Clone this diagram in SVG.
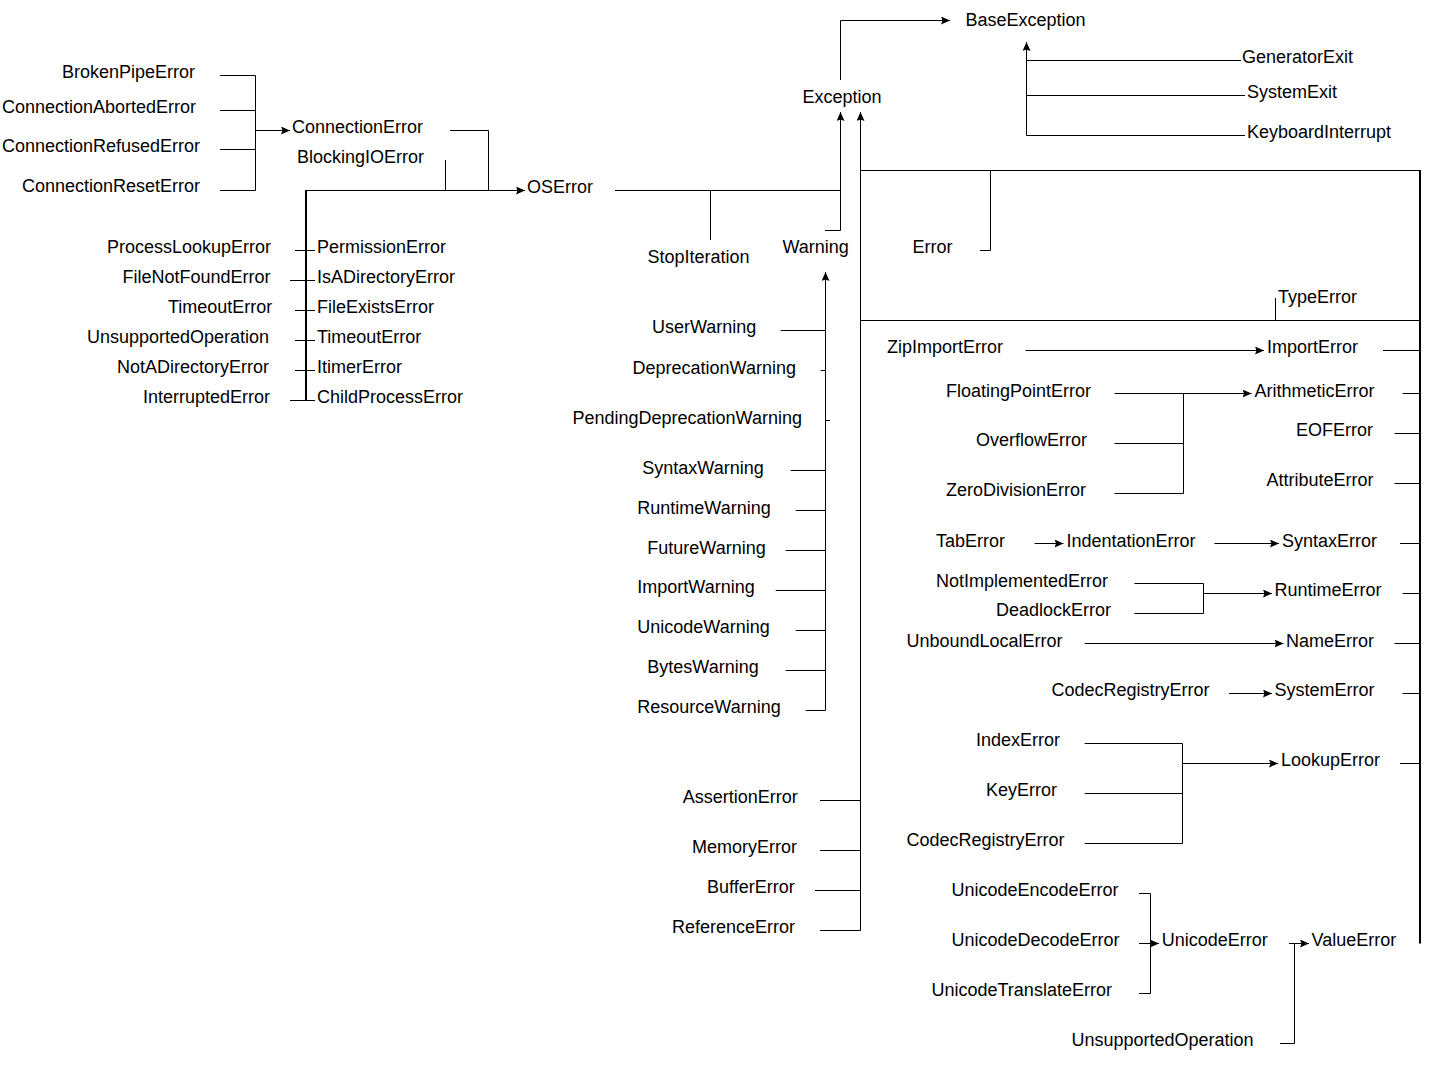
<svg xmlns="http://www.w3.org/2000/svg" width="1430" height="1067" viewBox="0 0 1430 1067">
<style>
text{font-family:"Liberation Sans",Arial,Helvetica,sans-serif;font-size:18px;fill:#000}
.c{fill:none;stroke:#000;stroke-width:1}
.t{fill:none;stroke:#000;stroke-width:2}
</style>
<defs>
<marker id="ah" markerUnits="userSpaceOnUse" markerWidth="10" markerHeight="9" refX="9" refY="4" orient="auto">
<path d="M0,0 L9,4 L0,8 L1.5,4 z" fill="#000"/>
</marker>
</defs>
<rect width="1430" height="1067" fill="#fff"/>
<g id="connectors">
<path class="c" d="M220 75.5 H255.5 V190.5 H220"/>
<path class="c" d="M220 110.5 H255.5"/>
<path class="c" d="M220 149.5 H255.5"/>
<path class="c" d="M255.5 130.5 H290" marker-end="url(#ah)"/>
<path class="c" d="M450 130.5 H488.5 V190.5"/>
<path class="c" d="M445.5 160 V190.5"/>
<path class="t" d="M306 190 V400.5"/>
<path class="c" d="M306 190.5 H525" marker-end="url(#ah)"/>
<path class="c" d="M295 250.5 H315"/>
<path class="c" d="M290 280.5 H315"/>
<path class="c" d="M295 310.5 H315"/>
<path class="c" d="M295 340.5 H315"/>
<path class="c" d="M295 370.5 H315"/>
<path class="c" d="M290 400.5 H315"/>
<path class="c" d="M615 190.5 H840.5"/>
<path class="c" d="M710.5 240 V190.5"/>
<path class="c" d="M825 230.5 H840.5 V112" marker-end="url(#ah)"/>
<path class="c" d="M840.5 80 V20.5 H950" marker-end="url(#ah)"/>
<path class="c" d="M820 930.5 H860.5 V112" marker-end="url(#ah)"/>
<path class="c" d="M860.5 170.5 H1420"/>
<path class="c" d="M860.5 320.5 H1420"/>
<path class="t" d="M1420 170 V943.5"/>
<path class="c" d="M980 250.5 H990.5 V170.5"/>
<path class="c" d="M1275.5 298 V320.5"/>
<path class="c" d="M1241 60.5 H1026.5"/>
<path class="c" d="M1245 95.5 H1026.5"/>
<path class="c" d="M1245 135.5 H1026.5 V42" marker-end="url(#ah)"/>
<path class="c" d="M805.7 710.5 H825.5 V272" marker-end="url(#ah)"/>
<path class="c" d="M780.7 330.5 H825.5"/>
<path class="c" d="M820.7 370.5 H825.5"/>
<path class="c" d="M825.5 420.5 H830"/>
<path class="c" d="M790.7 470.5 H825.5"/>
<path class="c" d="M795.7 510.5 H825.5"/>
<path class="c" d="M785.7 550.5 H825.5"/>
<path class="c" d="M775.7 590.5 H825.5"/>
<path class="c" d="M795.7 630.5 H825.5"/>
<path class="c" d="M785.7 670.5 H825.5"/>
<path class="c" d="M820 800.5 H860.5"/>
<path class="c" d="M820 850.5 H860.5"/>
<path class="c" d="M815 890.5 H860.5"/>
<path class="c" d="M1025.5 350.5 H1264" marker-end="url(#ah)"/>
<path class="c" d="M1383 350.5 H1420"/>
<path class="c" d="M1114.5 393.5 H1251.5" marker-end="url(#ah)"/>
<path class="c" d="M1183.5 393.5 V493.5 H1114.5"/>
<path class="c" d="M1114.5 443.5 H1183.5"/>
<path class="c" d="M1402.5 393.5 H1420"/>
<path class="c" d="M1394.5 433.5 H1420"/>
<path class="c" d="M1394.5 483.5 H1420"/>
<path class="c" d="M1034.5 543.5 H1063.5" marker-end="url(#ah)"/>
<path class="c" d="M1214.5 543.5 H1279" marker-end="url(#ah)"/>
<path class="c" d="M1400 543.5 H1420"/>
<path class="c" d="M1134.5 583.5 H1203.5 V613.5 H1134.5"/>
<path class="c" d="M1203.5 593.5 H1272" marker-end="url(#ah)"/>
<path class="c" d="M1402.5 593.5 H1420"/>
<path class="c" d="M1084.7 643.5 H1283.5" marker-end="url(#ah)"/>
<path class="c" d="M1394.5 643.5 H1420"/>
<path class="c" d="M1229 693.5 H1272" marker-end="url(#ah)"/>
<path class="c" d="M1402.5 693.5 H1420"/>
<path class="c" d="M1084.7 743.5 H1182.5 V843.5 H1084.7"/>
<path class="c" d="M1084.7 793.5 H1182.5"/>
<path class="c" d="M1182.5 763.5 H1278" marker-end="url(#ah)"/>
<path class="c" d="M1400 763.5 H1420"/>
<path class="c" d="M1139 893.5 H1150.5 V993.5 H1139"/>
<path class="c" d="M1139 943.5 H1159" marker-end="url(#ah)"/>
<path class="c" d="M1289 943.5 H1309" marker-end="url(#ah)"/>
<path class="c" d="M1280 1043.5 H1294.5 V943.5"/>
</g>
<g id="n-BrokenPipeError"><text x="62" y="78">BrokenPipeError</text></g>
<g id="n-ConnectionAbortedError"><text x="2" y="113">ConnectionAbortedError</text></g>
<g id="n-ConnectionRefusedError"><text x="2" y="152">ConnectionRefusedError</text></g>
<g id="n-ConnectionResetError"><text x="22" y="192">ConnectionResetError</text></g>
<g id="n-ConnectionError"><text x="292" y="133">ConnectionError</text></g>
<g id="n-BlockingIOError"><text x="297" y="163">BlockingIOError</text></g>
<g id="n-OSError"><text x="527" y="193">OSError</text></g>
<g id="n-ProcessLookupError"><text x="107" y="253">ProcessLookupError</text></g>
<g id="n-FileNotFoundError"><text x="122.5" y="283">FileNotFoundError</text></g>
<g id="n-TimeoutError-l"><text x="168" y="313">TimeoutError</text></g>
<g id="n-UnsupportedOperation-l"><text x="87" y="343">UnsupportedOperation</text></g>
<g id="n-NotADirectoryError"><text x="117" y="373">NotADirectoryError</text></g>
<g id="n-InterruptedError"><text x="143" y="403">InterruptedError</text></g>
<g id="n-PermissionError"><text x="317" y="253">PermissionError</text></g>
<g id="n-IsADirectoryError"><text x="317" y="283">IsADirectoryError</text></g>
<g id="n-FileExistsError"><text x="317" y="313">FileExistsError</text></g>
<g id="n-TimeoutError-r"><text x="317" y="343">TimeoutError</text></g>
<g id="n-ItimerError"><text x="317" y="373">ItimerError</text></g>
<g id="n-ChildProcessError"><text x="317" y="403">ChildProcessError</text></g>
<g id="n-BaseException"><text x="965.5" y="26">BaseException</text></g>
<g id="n-Exception"><text x="802.5" y="103">Exception</text></g>
<g id="n-StopIteration"><text x="647.5" y="263">StopIteration</text></g>
<g id="n-Warning"><text x="782.5" y="253">Warning</text></g>
<g id="n-Error"><text x="912.5" y="253">Error</text></g>
<g id="n-UserWarning"><text x="652" y="333">UserWarning</text></g>
<g id="n-DeprecationWarning"><text x="632.5" y="374">DeprecationWarning</text></g>
<g id="n-PendingDeprecationWarning"><text x="572.5" y="424">PendingDeprecationWarning</text></g>
<g id="n-SyntaxWarning"><text x="642.3" y="474">SyntaxWarning</text></g>
<g id="n-RuntimeWarning"><text x="637.3" y="514">RuntimeWarning</text></g>
<g id="n-FutureWarning"><text x="647.3" y="554">FutureWarning</text></g>
<g id="n-ImportWarning"><text x="637.3" y="593">ImportWarning</text></g>
<g id="n-UnicodeWarning"><text x="637.3" y="633">UnicodeWarning</text></g>
<g id="n-BytesWarning"><text x="647.3" y="673">BytesWarning</text></g>
<g id="n-ResourceWarning"><text x="637.3" y="713">ResourceWarning</text></g>
<g id="n-AssertionError"><text x="682.7" y="803">AssertionError</text></g>
<g id="n-MemoryError"><text x="692" y="853">MemoryError</text></g>
<g id="n-BufferError"><text x="707" y="893">BufferError</text></g>
<g id="n-ReferenceError"><text x="672" y="933">ReferenceError</text></g>
<g id="n-GeneratorExit"><text x="1242" y="63">GeneratorExit</text></g>
<g id="n-SystemExit"><text x="1247" y="98">SystemExit</text></g>
<g id="n-KeyboardInterrupt"><text x="1247" y="138">KeyboardInterrupt</text></g>
<g id="n-TypeError"><text x="1278" y="303">TypeError</text></g>
<g id="n-ZipImportError"><text x="887" y="353">ZipImportError</text></g>
<g id="n-ImportError"><text x="1267" y="353">ImportError</text></g>
<g id="n-FloatingPointError"><text x="946" y="397">FloatingPointError</text></g>
<g id="n-ArithmeticError"><text x="1254.5" y="397">ArithmeticError</text></g>
<g id="n-OverflowError"><text x="976" y="446">OverflowError</text></g>
<g id="n-ZeroDivisionError"><text x="946" y="496">ZeroDivisionError</text></g>
<g id="n-EOFError"><text x="1296" y="436">EOFError</text></g>
<g id="n-AttributeError"><text x="1266.5" y="486">AttributeError</text></g>
<g id="n-TabError"><text x="936" y="547">TabError</text></g>
<g id="n-IndentationError"><text x="1066.5" y="547">IndentationError</text></g>
<g id="n-SyntaxError"><text x="1282" y="547">SyntaxError</text></g>
<g id="n-NotImplementedError"><text x="936" y="587">NotImplementedError</text></g>
<g id="n-DeadlockError"><text x="996" y="616">DeadlockError</text></g>
<g id="n-RuntimeError"><text x="1274.5" y="596">RuntimeError</text></g>
<g id="n-UnboundLocalError"><text x="906.5" y="647">UnboundLocalError</text></g>
<g id="n-NameError"><text x="1286" y="647">NameError</text></g>
<g id="n-CodecRegistryError-a"><text x="1051.5" y="696">CodecRegistryError</text></g>
<g id="n-SystemError"><text x="1274.5" y="696">SystemError</text></g>
<g id="n-IndexError"><text x="976" y="746">IndexError</text></g>
<g id="n-KeyError"><text x="986" y="796">KeyError</text></g>
<g id="n-CodecRegistryError-b"><text x="906.5" y="846">CodecRegistryError</text></g>
<g id="n-LookupError"><text x="1281" y="766">LookupError</text></g>
<g id="n-UnicodeEncodeError"><text x="951.5" y="896">UnicodeEncodeError</text></g>
<g id="n-UnicodeDecodeError"><text x="951.5" y="946">UnicodeDecodeError</text></g>
<g id="n-UnicodeTranslateError"><text x="931.5" y="996">UnicodeTranslateError</text></g>
<g id="n-UnicodeError"><text x="1161.8" y="946">UnicodeError</text></g>
<g id="n-ValueError"><text x="1311.5" y="946">ValueError</text></g>
<g id="n-UnsupportedOperation-r"><text x="1071.5" y="1046">UnsupportedOperation</text></g>
</svg>
